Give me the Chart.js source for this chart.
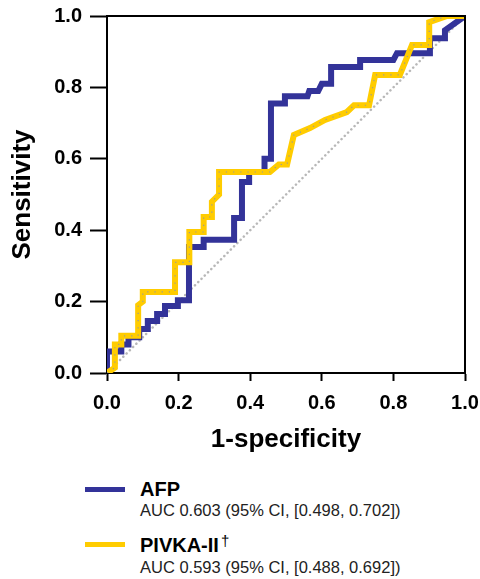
<!DOCTYPE html>
<html>
<head>
<meta charset="utf-8">
<script src="https://cdn.jsdelivr.net/npm/chart.js@4.4.1/dist/chart.umd.min.js"></script>
<style>
  html, body { margin:0; padding:0; background:#fff; }
  body { width:480px; height:579px; position:relative; overflow:hidden; font-family:"Liberation Sans", Arial, Helvetica, sans-serif; }
  #wrap { position:absolute; left:0; top:0; width:480px; height:470px; }
  .sw { position:absolute; left:85px; width:40px; height:5px; }
  .t { position:absolute; left:140px; white-space:nowrap; }
  .name { font-weight:bold; font-size:20px; line-height:20px; color:#000; }
  .auc { font-size:16.5px; line-height:16.5px; color:#222; }
  .dag { font-weight:normal; font-size:15px; position:relative; top:-6px; margin-left:2px; }
</style>
</head>
<body>
<div id="wrap"><canvas id="c" width="480" height="470"></canvas></div>
<div class="sw" style="top:487px;background:#333399;"></div>
<div class="t name" style="top:479px;">AFP</div>
<div class="t auc" style="top:502px;">AUC 0.603 (95% CI, [0.498, 0.702])</div>
<div class="sw" style="top:542px;background:#FFCC00;"></div>
<div class="t name" style="top:535px;">PIVKA-II<span class="dag">†</span></div>
<div class="t auc" style="top:559px;">AUC 0.593 (95% CI, [0.488, 0.692])</div>
<script>
// ---- data ----
const afpFPR = [0,0,0.04,0.04,0.06,0.06,0.09,0.09,0.114,0.114,0.14,0.14,0.162,0.162,0.198,0.198,0.229,0.229,0.27,0.27,0.355,0.355,0.377,0.377,0.397,0.397,0.44,0.44,0.458,0.458,0.497,0.497,0.56,0.565,0.59,0.60,0.626,0.626,0.707,0.707,0.80,0.81,0.902,0.902,0.944,0.944,1];
const afpTPR = [0,0.06,0.06,0.08,0.08,0.10,0.10,0.123,0.123,0.146,0.146,0.165,0.165,0.188,0.188,0.204,0.204,0.353,0.353,0.373,0.373,0.434,0.434,0.535,0.535,0.563,0.563,0.60,0.60,0.755,0.755,0.775,0.775,0.79,0.79,0.81,0.81,0.857,0.857,0.877,0.877,0.896,0.896,0.938,0.938,0.96,1];
const pivkaFPR = [0,0.022,0.022,0.04,0.04,0.087,0.087,0.10,0.10,0.19,0.19,0.23,0.23,0.27,0.27,0.293,0.293,0.313,0.313,0.455,0.48,0.503,0.522,0.567,0.609,0.67,0.69,0.732,0.749,0.818,0.852,0.90,0.90,0.95,1];
const pivkaTPR = [0,0.015,0.08,0.08,0.104,0.104,0.19,0.20,0.227,0.227,0.31,0.31,0.395,0.395,0.437,0.437,0.48,0.50,0.563,0.563,0.584,0.584,0.667,0.686,0.709,0.731,0.75,0.75,0.835,0.835,0.919,0.919,0.983,1,1];
const refFPR = [0,1];
const refTPR = [0,1];
const xTickLabels = ['0.0','0.2','0.4','0.6','0.8','1.0'];
const yTickLabels = ['0.0','0.2','0.4','0.6','0.8','1.0'];
const seriesNames = ['AFP','PIVKA-II'];

const pts = (xs, ys) => xs.map((x, i) => ({x, y: ys[i]}));
const FONT = '"Liberation Sans", Arial, Helvetica, sans-serif';
Chart.defaults.font.family = FONT;

const framePlugin = {
  id: 'frame',
  afterDatasetsDraw(chart) {
    const {ctx, chartArea: a} = chart;
    ctx.save();
    ctx.strokeStyle = '#000';
    ctx.lineWidth = 2;
    ctx.beginPath();
    ctx.moveTo(a.left, a.top);
    ctx.lineTo(a.right, a.top);
    ctx.lineTo(a.right, a.bottom);
    ctx.stroke();
    ctx.restore();
  }
};

new Chart(document.getElementById('c'), {
  type: 'scatter',
  data: {
    datasets: [
      { label: seriesNames[1] + ' dots', data: pts(pivkaFPR, pivkaTPR), showLine: true, borderColor: '#9a9a9a', borderWidth: 1.2, borderDash: [1.2, 6], pointRadius: 0, tension: 0, order: 0, clip: 0 },
      { label: seriesNames[1], data: pts(pivkaFPR, pivkaTPR), showLine: true, borderColor: '#FFCC00', borderWidth: 6, pointRadius: 0, tension: 0, order: 1, clip: 0 },
      { label: seriesNames[0], data: pts(afpFPR, afpTPR), showLine: true, borderColor: '#333399', borderWidth: 6, pointRadius: 0, tension: 0, order: 2, clip: 0 },
      { label: 'reference', data: pts(refFPR, refTPR), showLine: true, borderColor: '#b8b8b8', borderWidth: 2.5, borderDash: [0.1, 4.5], borderCapStyle: 'round', pointRadius: 0, tension: 0, order: 3, clip: 0 }
    ]
  },
  options: {
    responsive: false,
    animation: false,
    devicePixelRatio: 1,
    layout: { padding: { top: 16, right: 15, left: 0, bottom: 0 } },
    plugins: { legend: { display: false }, tooltip: { enabled: false } },
    scales: {
      x: {
        type: 'linear', min: 0, max: 1,
        ticks: { stepSize: 0.2, autoSkip: false, maxRotation: 0, padding: 10, color: '#000',
          font: { size: 20, weight: 'bold' },
          callback: (v, i) => xTickLabels[i] },
        grid: { drawOnChartArea: false, tickLength: 8, tickWidth: 2, tickColor: '#000' },
        border: { color: '#000', width: 2 },
        title: { display: true, text: '1-specificity', color: '#000', font: { size: 26, weight: 'bold' }, padding: { top: 0, bottom: 15 } },
        afterFit: s => { s.height = 97; s.paddingLeft = 0; s.paddingRight = 0; }
      },
      y: {
        type: 'linear', min: 0, max: 1,
        ticks: { stepSize: 0.2, autoSkip: false, padding: 8, color: '#000',
          font: { size: 20, weight: 'bold' },
          callback: (v, i) => yTickLabels[i] },
        grid: { drawOnChartArea: false, tickLength: 17, tickWidth: 2, tickColor: '#000' },
        border: { color: '#000', width: 2 },
        title: { display: true, text: 'Sensitivity', color: '#000', font: { size: 26, weight: 'bold' }, padding: { top: 7, bottom: 0 } },
        afterFit: s => { s.width = 107; s.paddingTop = 0; s.paddingBottom = 0; }
      }
    }
  },
  plugins: [framePlugin]
});
</script>
</body>
</html>
